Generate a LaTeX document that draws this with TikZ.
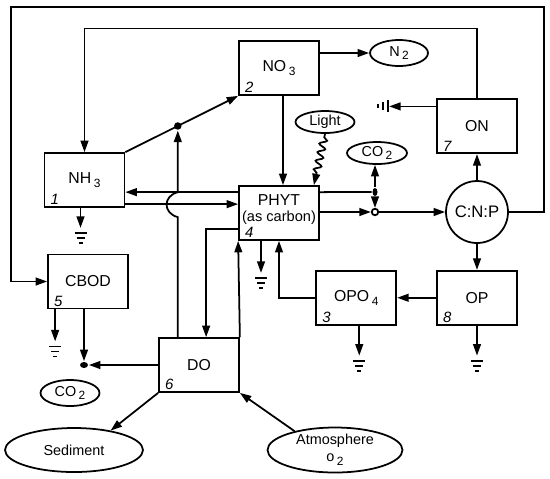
\documentclass[tikz,border=0pt]{standalone}
\usepackage{fontspec}
\setmainfont{Liberation Sans}
\usepackage{tikz}
\usetikzlibrary{shapes.geometric, arrows.meta, positioning, calc,
                decorations.pathmorphing}
\newcommand{\lowr}[1]{\,\raisebox{-0.5ex}{\fontsize{6.8}{7}\selectfont #1}}

\begin{document}
\begin{tikzpicture}[
    x=0.02cm, y=-0.02cm, line width=1pt,
    pool/.style={draw, minimum width=1.6cm, minimum height=1.08cm, inner sep=0pt,
        font=\fontsize{9}{10.5}\selectfont, align=center, label={[poolnum]south west:#1}},
    poolnum/.style={anchor=south west, font=\fontsize{8.5}{9}\selectfont\itshape,
        inner xsep=3.5pt, inner ysep=1.2pt},
    pond/.style={draw, ellipse, inner sep=0pt, font=\fontsize{8.2}{9.5}\selectfont, align=center},
    arr/.style={-{Triangle[length=6.5pt,width=4.4pt]}},
    wavy/.style={decorate, decoration={snake, segment length=5pt, amplitude=2pt,
        pre length=2pt, post length=7pt}},
    gnd/.pic={\draw (-6,0) -- (6,0) (-4,5) -- (4,5) (-2,10) -- (2,10);},
    sink/.pic={\draw[arr] (0,0) -- (0,#1);
        \draw (-6,#1+5) -- (6,#1+5) (-4,#1+10) -- (4,#1+10) (-2,#1+15) -- (2,#1+15);},
]
\useasboundingbox (0,0) rectangle (550,478);
% pools
\node[pool=1] (nh3) at (84.5,180) {NH\lowr{3}};
\node[pool=2] (no3) at (279,68) {NO\lowr{3}};
\node[pool=4] (phyt) at (279,213)
    {\raisebox{-5pt}[0pt][0pt]{\shortstack{PHYT\\{\fontsize{8.3}{9}\selectfont(as carbon)}}}};
\node[pool=5] (cbod) at (88,281.5) {CBOD};
\node[pool=6] (do) at (199,365) {DO};
\node[draw, circle, minimum size=1.24cm, inner sep=0pt, font=\fontsize{9.5}{10}\selectfont]
    (cnp) at (477,212) {C:N:P};
\node[pool=7, above=0.52cm of cnp] (on) {ON};
\node[pool=8, below=0.52cm of cnp] (op) {OP};
\node[pool=3, left=0.78cm of op] (opo4) {OPO\lowr{4}};
% sources and sinks
\node[pond, minimum width=1.16cm, minimum height=0.52cm] (n2) at (399,53) {N\lowr{2}};
\node[pond, minimum width=1.18cm, minimum height=0.44cm] (light) at (325,122) {Light};
\node[pond, minimum width=1.2cm, minimum height=0.44cm] (co2a) at (377,153) {CO\lowr{2}};
\node[pond, minimum width=1.18cm, minimum height=0.52cm] (co2b) at (70,393) {CO\lowr{2}};
\node[pond, minimum width=2.76cm, minimum height=0.88cm] (sed) at (74,450) {Sediment};
\node[pond, minimum width=2.7cm, minimum height=0.9cm] (atm) at (335,450) {Atmosphere\\o\lowr{2}};
% junctions
\node[fill, circle, inner sep=0pt, minimum size=0.15cm] (nitdot)
    at ($(nh3.north east)!0.465!(no3.south west)$) {};
\node[draw, circle, inner sep=0pt, minimum size=0.13cm, fill=white] (rc) at (375,212) {};
\node[fill, ellipse, inner sep=0pt, minimum width=0.1cm, minimum height=0.16cm] (cj) at (375,192) {};
\node[fill, ellipse, inner sep=0pt, minimum width=0.16cm, minimum height=0.12cm] (cdot) at (84,365) {};
\coordinate (py1) at ($(phyt.north west)+(0,7)$);
\coordinate (py2) at ($(phyt.north west)+(0,19)$);
\coordinate (corner) at (11,7);
% nitrogen
\draw[arr] (nh3.north east) -- (no3.south west);
\draw[arr] (no3.east |- n2.west) -- (n2.west);
\draw[arr] ($(no3.south)+(4,0)$) -- ($(phyt.north)+(4,0)$);
\draw[arr, wavy] (light.south) -- ($(phyt.north east)+(-6,0)$);
\draw[arr] (py1) -- (py1 -| nh3.east);
\draw[arr] (py2 -| nh3.east) -- (py2);
\draw[arr] (nitdot |- do.north) -- ($(nitdot |- py2)+(0,13)$)
    .. controls +(-15,-4) and +(-15,4) .. (nitdot |- py1) -- (nitdot.south);
\draw[arr] (on.north) -- ++(0,-70) -| (nh3.north);
\draw[arr] (cnp.east) -- ++(35,0) |- (corner) |- (cbod.west);
% carbon, phosphorus
\draw (py1 -| phyt.east) -- (cj);
\draw[arr] (cj) -- (co2a.south -| cj);
\draw[arr] (cj) -- (rc.north);
\draw[arr] (rc -| phyt.east) -- (rc.west);
\draw[arr] (rc.east) -- (cnp.west);
\draw[arr] (cnp.north) -- (on.south);
\draw[arr] (cnp.south) -- (op.north);
\draw[arr] (op.west) -- (opo4.east);
\draw[arr] (opo4.west) -| (phyt.south);
\draw[arr] ($(on.north west)+(0,8)$) -- ++(-47,0) coordinate (onsink);
\pic[rotate=-90] at ($(onsink)+(-1,0)$) {gnd};
% oxygen
\draw[arr] ($(phyt.south west)+(0,-12)$) -| ($(do.north west)+(48,0)$);
\draw[arr] (do.north east) -- (phyt.south west);
\draw[arr] (cdot |- cbod.south) -- (cdot.north);
\draw[arr] (do.west |- cdot) -- (cdot.east);
\draw[arr] (do.south west) -- (sed.28);
\draw[arr] (atm.155) -- (do.south east);
% settling
\pic at ($(nh3.south)+(-4,0)$) {sink=20};
\pic at ($(phyt.south)+(-18,0)$) {sink=32};
\pic at ($(cbod.south west)+(8,0)$) {sink=32};
\pic at ($(opo4.south)+(3,0)$) {sink=30};
\pic at (op.south) {sink=30};
\end{tikzpicture}
\end{document}
